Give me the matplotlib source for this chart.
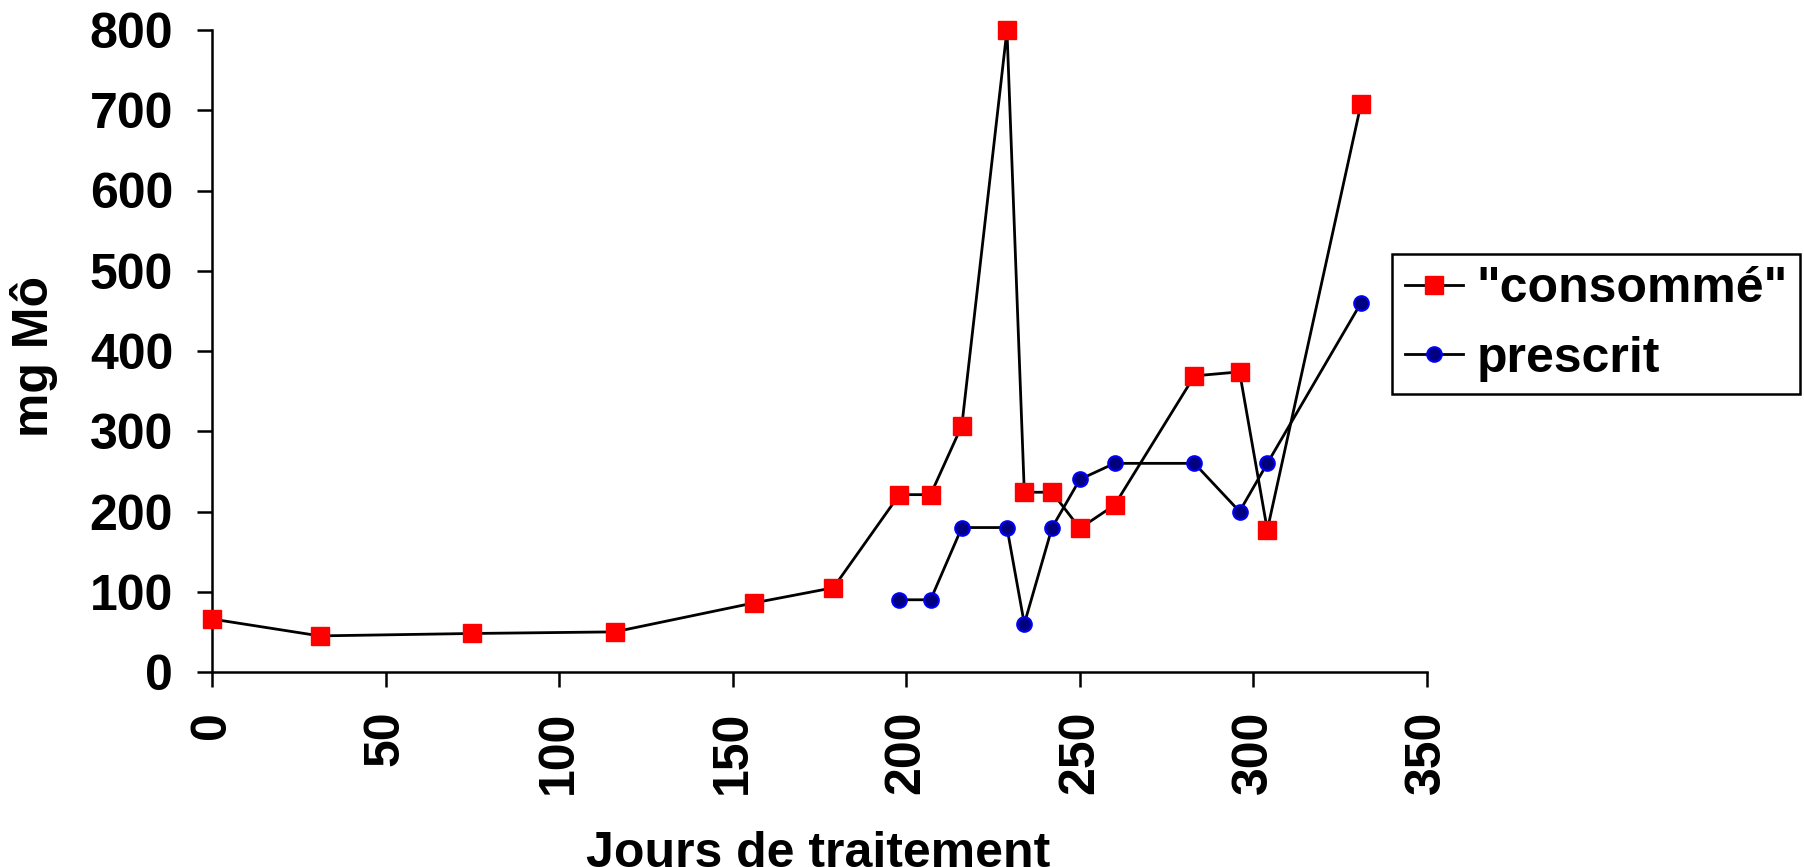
import matplotlib
matplotlib.use("Agg")
import matplotlib.pyplot as plt

plt.rcParams['font.family'] = ['Liberation Sans', 'DejaVu Sans']
plt.rcParams['font.weight'] = 'bold'

# Données
jours_conso = [0, 31, 75, 116, 156, 179, 198, 207, 216, 229, 234, 242, 250, 260, 283, 296, 304, 331]
mg_conso = [66, 45, 48, 50, 86, 105, 221, 221, 307, 800, 224, 224, 179, 208, 369, 374, 177, 708]

jours_presc = [198, 207, 216, 229, 234, 242, 250, 260, 283, 296, 304, 331]
mg_presc = [90, 90, 180, 180, 60, 180, 240, 260, 260, 200, 260, 460]

x_ticks = [0, 50, 100, 150, 200, 250, 300, 350]
y_ticks = [0, 100, 200, 300, 400, 500, 600, 700, 800]

fig = plt.figure(figsize=(18.04, 8.67), dpi=100)
ax = fig.add_axes([212 / 1804, 1 - 672 / 867, (1427 - 212) / 1804, (672 - 30) / 867])

ax.plot(jours_conso, mg_conso, color='black', lw=2, marker='s', ms=13,
        mfc='#ff0000', mec='#ff0000', label='"consommé"', clip_on=False, zorder=3)
ax.plot(jours_presc, mg_presc, color='black', lw=2, marker='o', ms=10.5,
        mfc='#000080', mec='#0000ff', mew=1.5, label='prescrit', clip_on=False, zorder=3)

ax.set_xlim(0, 350)
ax.set_ylim(0, 800)
ax.set_xticks(x_ticks)
ax.set_yticks(y_ticks)
ax.set_xticklabels([str(t) for t in x_ticks], rotation=90)

for s in ['top', 'right']:
    ax.spines[s].set_visible(False)
for s in ['left', 'bottom']:
    ax.spines[s].set_linewidth(1.8)
ax.tick_params(axis='both', direction='out', length=11, width=1.8, labelsize=36, pad=17)

fig.text(34 / 1804, 1 - 356 / 867, 'mg Mô', rotation=90, ha='center', va='center',
         fontsize=36, fontweight='bold')
fig.text(818 / 1804, 1 - 831 / 867, 'Jours de traitement', ha='center', va='top',
         fontsize=36, fontweight='bold')

leg = ax.legend(loc='upper left', bbox_to_anchor=(1392 / 1804, 1 - 254 / 867),
                bbox_transform=fig.transFigure, borderaxespad=0, fontsize=36,
                numpoints=1, handlelength=1.16, handletextpad=0.28,
                labelspacing=0.46, borderpad=0.25, fancybox=False, framealpha=1)
leg.get_frame().set_edgecolor('black')
leg.get_frame().set_linewidth(1.8)

fig.savefig('out.png', dpi=100)
